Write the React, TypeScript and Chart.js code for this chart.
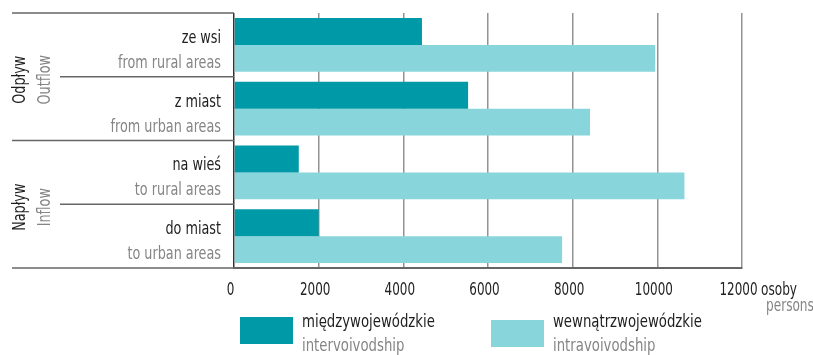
import React, { useEffect, useRef } from "react";
import { Chart, registerables } from "chart.js";

Chart.register(...registerables);

const categoriesPl = ["ze wsi", "z miast", "na wieś", "do miast"];
const categoriesEn = ["from rural areas", "from urban areas", "to rural areas", "to urban areas"];
const groupsPl = ["Odpływ", "Napływ"];
const groupsEn = ["Outflow", "Inflow"];
const interValues = [4440, 5530, 1530, 2000];
const intraValues = [9950, 8410, 10640, 7750];
const seriesPl = ["międzywojewódzkie", "wewnątrzwojewódzkie"];
const seriesEn = ["intervoivodship", "intravoivodship"];
const seriesColors = ["#0099a8", "#88d6db"];
const xMax = 12000;
const xStep = 2000;
const unitPl = "osoby";
const unitEn = "persons";

const FONT = "'DejaVu Sans Condensed', 'Liberation Sans Narrow', sans-serif";
const DARK = "#1e1e1e";
const GREY = "#858585";
const K = 0.79;

function txt(
  ctx: CanvasRenderingContext2D,
  s: string,
  x: number,
  y: number,
  align: CanvasTextAlign,
  size: number,
  color: string,
  rotate = 0,
  k = K
) {
  ctx.save();
  ctx.translate(x, y);
  if (rotate) ctx.rotate(rotate);
  ctx.scale(k, 1);
  ctx.font = `${size}px ${FONT}`;
  ctx.fillStyle = color;
  ctx.textAlign = align;
  ctx.textBaseline = "alphabetic";
  ctx.fillText(s, 0, 0);
  ctx.restore();
}

const decorPlugin = {
  id: "decor",
  afterDraw(chart: any) {
    const ctx = chart.ctx as CanvasRenderingContext2D;
    const area = chart.chartArea;
    const y = chart.scales.y;
    const x = chart.scales.x;
    const n = categoriesPl.length;
    const centers = categoriesPl.map((_, i) => y.getPixelForValue(i));
    const bounds: number[] = [area.top];
    for (let i = 0; i < n - 1; i++) bounds.push((centers[i] + centers[i + 1]) / 2);
    bounds.push(area.bottom);

    ctx.save();
    // separators
    ctx.strokeStyle = "#666";
    ctx.lineWidth = 1.5;
    bounds.forEach((b, i) => {
      const startX = i % 2 === 0 ? 12 : 60;
      ctx.beginPath();
      ctx.moveTo(startX, b);
      ctx.lineTo(area.left, b);
      ctx.stroke();
    });

    // category labels
    centers.forEach((c, i) => {
      txt(ctx, categoriesPl[i], 221, c - 2, "right", 18, DARK);
      txt(ctx, categoriesEn[i], 221, c + 23, "right", 18, GREY);
    });

    // group labels (rotated)
    groupsPl.forEach((g, gi) => {
      const top = bounds[gi * 2];
      const bot = bounds[gi * 2 + 2];
      const cy = (top + bot) / 2 + 3;
      txt(ctx, g, 25, cy, "center", 18, DARK, -Math.PI / 2);
      txt(ctx, groupsEn[gi], 50, cy, "center", 18, GREY, -Math.PI / 2);
    });

    // x tick labels from the scale's ticks
    x.ticks.forEach((t: any) => {
      const px = x.getPixelForValue(t.value);
      txt(ctx, String(t.value), px - 3.5, 295, "center", 17.5, "#222", 0, 0.76);
    });

    // unit
    const xr = x.getPixelForValue(xMax);
    txt(ctx, unitPl, xr + 19, 295, "left", 17.5, DARK, 0, 0.77);
    txt(ctx, unitEn, xr + 24, 311, "left", 17.5, GREY, 0, 0.77);

    // legend
    const legendBoxes = [
      { x: 240, y: 317 },
      { x: 491, y: 320 },
    ];
    legendBoxes.forEach((b, i) => {
      ctx.fillStyle = seriesColors[i];
      ctx.fillRect(b.x, b.y, 53, 27);
      txt(ctx, seriesPl[i], b.x + 62, 327, "left", 18, DARK, 0, 0.82);
      txt(ctx, seriesEn[i], b.x + 62, 351, "left", 18, GREY, 0, 0.82);
    });
    ctx.restore();
  },
};

export default function App() {
  const ref = useRef<HTMLCanvasElement | null>(null);
  useEffect(() => {
    document.body.style.margin = "0";
    const canvas = ref.current!;
    Chart.defaults.font.family = FONT;
    const chart = new Chart(canvas, {
      type: "bar",
      data: {
        labels: categoriesPl,
        datasets: [
          {
            label: seriesPl[0],
            data: interValues,
            backgroundColor: seriesColors[0],
            categoryPercentage: 0.84,
            barPercentage: 1,
          },
          {
            label: seriesPl[1],
            data: intraValues,
            backgroundColor: seriesColors[1],
            categoryPercentage: 0.84,
            barPercentage: 1,
          },
        ],
      },
      options: {
        indexAxis: "y",
        animation: false,
        responsive: false,
        maintainAspectRatio: false,
        layout: { padding: { left: 234, right: 71, top: 13, bottom: 0 } },
        plugins: { legend: { display: false }, tooltip: { enabled: false } },
        scales: {
          x: {
            min: 0,
            max: xMax,
            ticks: {
              stepSize: xStep,
              display: false,
            },
            grid: {
              drawTicks: false,
              color: (c: any) => (c.tick && c.tick.value === 0 ? "#333" : "#939393"),
              lineWidth: 1.5,
            },
            border: { display: true, color: "#666", width: 2 },
            afterFit: (scale: any) => {
              scale.height = 87;
            },
          },
          y: { display: false },
        },
      },
      plugins: [decorPlugin],
    });
    return () => chart.destroy();
  }, []);
  return <canvas ref={ref} width={813} height={355} style={{ display: "block" }} />;
}
